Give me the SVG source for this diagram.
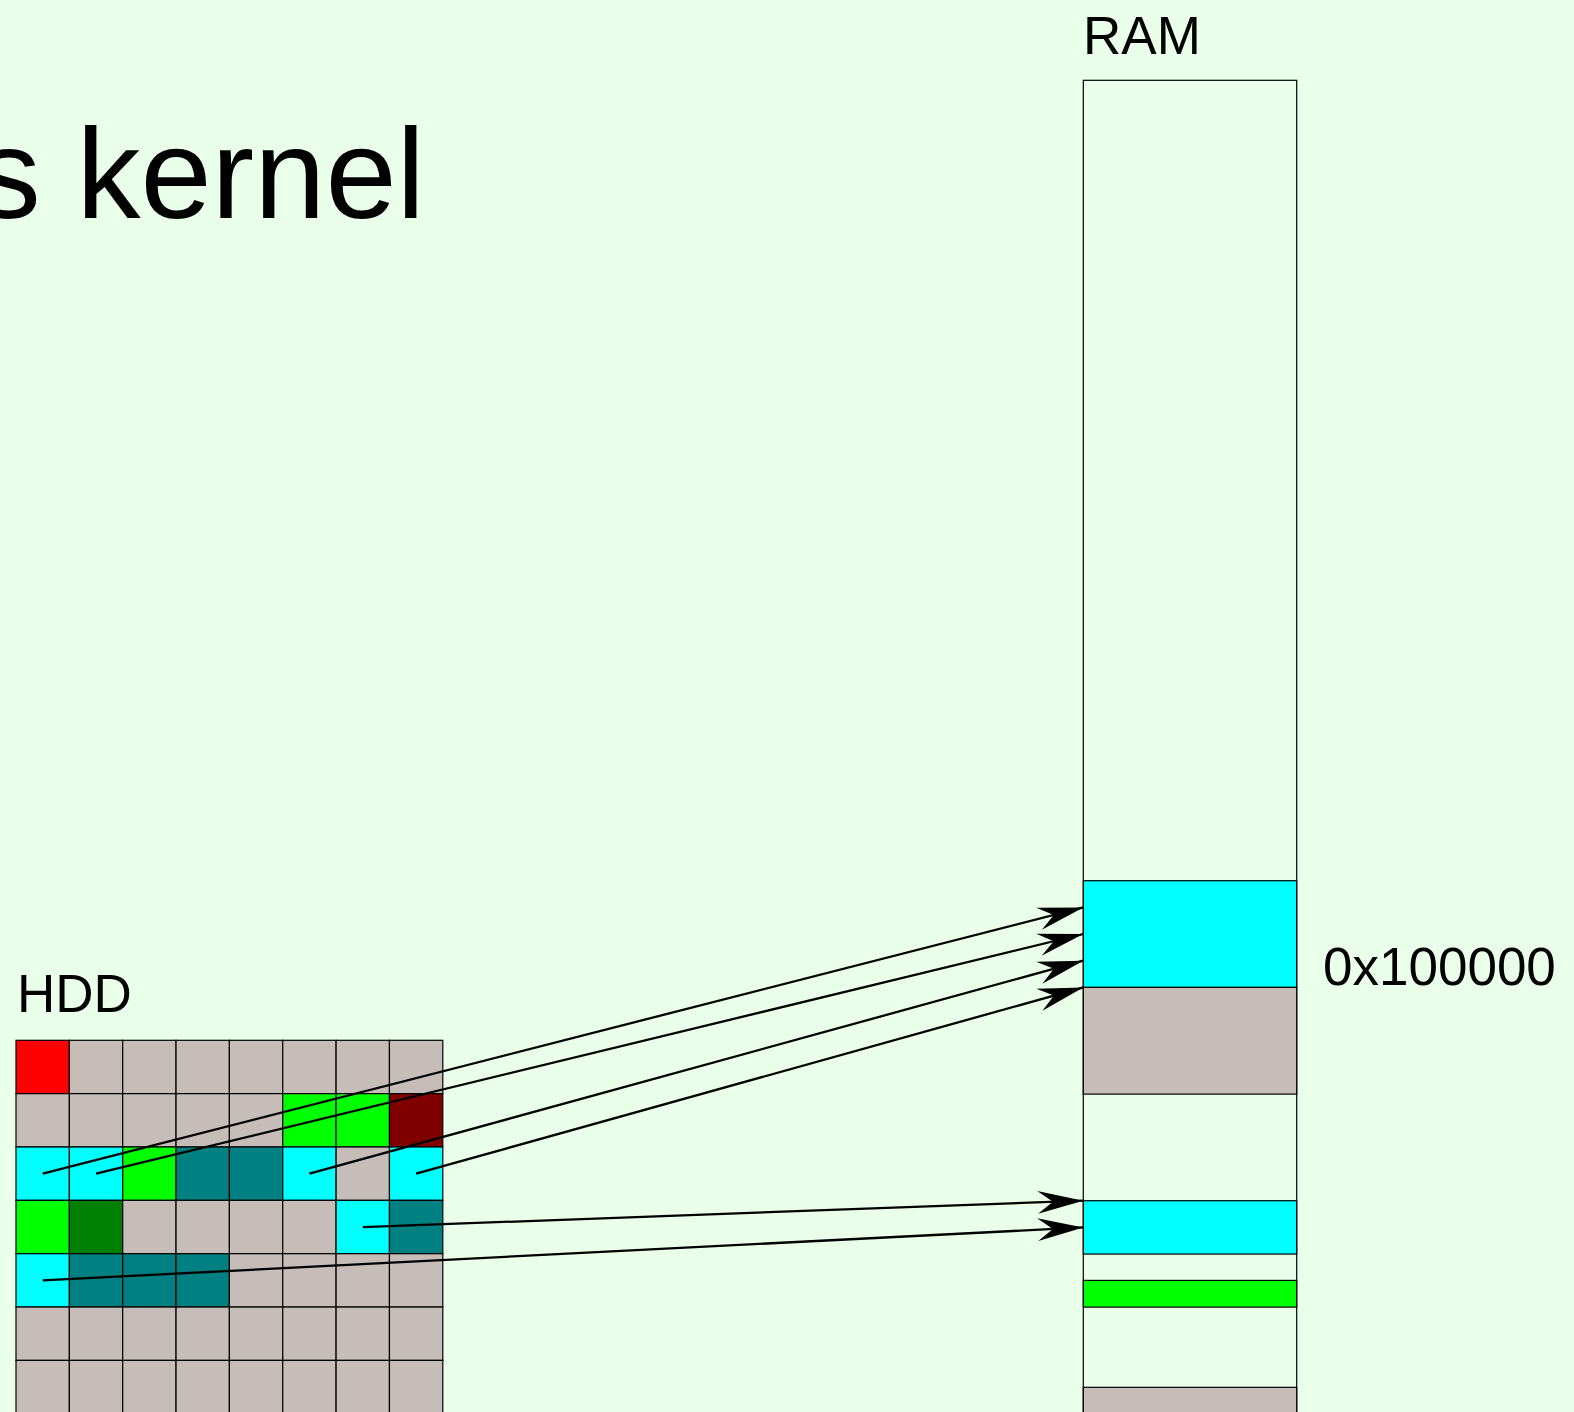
<svg xmlns="http://www.w3.org/2000/svg" width="1574" height="1412" viewBox="0 0 1574 1412">
  <style>
    text { font-family: "Liberation Sans", Arial, Helvetica, sans-serif; fill: #000; }
    .cell { stroke: #000; stroke-width: 1.2; }
    .g { fill: #c7bdb8; }
    .r { fill: #ff0000; }
    .gr { fill: #00ff00; }
    .dg { fill: #008000; }
    .dr { fill: #800000; }
    .cy { fill: #00ffff; }
    .tl { fill: #008080; }
    .ram { fill: none; stroke: #000; stroke-width: 1.2; }
    .conn { stroke: #000; stroke-width: 2.3; fill: none; marker-end: url(#stealth); }
  </style>
  <defs>
    <marker id="stealth" markerUnits="userSpaceOnUse" markerWidth="50" markerHeight="30" viewBox="-44 -12 46 24" refX="0" refY="0" orient="auto" overflow="visible">
      <path d="M0,0 L-42,-10.5 L-28,0 L-42,10.5 Z" fill="#000"/>
    </marker>
  </defs>
  <rect width="1574" height="1412" fill="#eaffea"/>

  <text x="425" y="218" font-size="128" text-anchor="end">s kernel</text>

  <g id="hdd">
    <text x="17" y="1012" font-size="53">HDD</text>
    <g transform="translate(16,1040.3)">
      <!-- row 0 -->
      <rect class="cell r" x="0" y="0" width="53.35" height="53.35"/>
      <rect class="cell g" x="53.35" y="0" width="53.35" height="53.35"/>
      <rect class="cell g" x="106.7" y="0" width="53.35" height="53.35"/>
      <rect class="cell g" x="160.05" y="0" width="53.35" height="53.35"/>
      <rect class="cell g" x="213.4" y="0" width="53.35" height="53.35"/>
      <rect class="cell g" x="266.75" y="0" width="53.35" height="53.35"/>
      <rect class="cell g" x="320.1" y="0" width="53.35" height="53.35"/>
      <rect class="cell g" x="373.45" y="0" width="53.35" height="53.35"/>
      <!-- row 1 -->
      <rect class="cell g" x="0" y="53.35" width="53.35" height="53.35"/>
      <rect class="cell g" x="53.35" y="53.35" width="53.35" height="53.35"/>
      <rect class="cell g" x="106.7" y="53.35" width="53.35" height="53.35"/>
      <rect class="cell g" x="160.05" y="53.35" width="53.35" height="53.35"/>
      <rect class="cell g" x="213.4" y="53.35" width="53.35" height="53.35"/>
      <rect class="cell gr" x="266.75" y="53.35" width="53.35" height="53.35"/>
      <rect class="cell gr" x="320.1" y="53.35" width="53.35" height="53.35"/>
      <rect class="cell dr" x="373.45" y="53.35" width="53.35" height="53.35"/>
      <!-- row 2 -->
      <rect class="cell cy" x="0" y="106.7" width="53.35" height="53.35"/>
      <rect class="cell cy" x="53.35" y="106.7" width="53.35" height="53.35"/>
      <rect class="cell gr" x="106.7" y="106.7" width="53.35" height="53.35"/>
      <rect class="cell tl" x="160.05" y="106.7" width="53.35" height="53.35"/>
      <rect class="cell tl" x="213.4" y="106.7" width="53.35" height="53.35"/>
      <rect class="cell cy" x="266.75" y="106.7" width="53.35" height="53.35"/>
      <rect class="cell g" x="320.1" y="106.7" width="53.35" height="53.35"/>
      <rect class="cell cy" x="373.45" y="106.7" width="53.35" height="53.35"/>
      <!-- row 3 -->
      <rect class="cell gr" x="0" y="160.05" width="53.35" height="53.35"/>
      <rect class="cell dg" x="53.35" y="160.05" width="53.35" height="53.35"/>
      <rect class="cell g" x="106.7" y="160.05" width="53.35" height="53.35"/>
      <rect class="cell g" x="160.05" y="160.05" width="53.35" height="53.35"/>
      <rect class="cell g" x="213.4" y="160.05" width="53.35" height="53.35"/>
      <rect class="cell g" x="266.75" y="160.05" width="53.35" height="53.35"/>
      <rect class="cell cy" x="320.1" y="160.05" width="53.35" height="53.35"/>
      <rect class="cell tl" x="373.45" y="160.05" width="53.35" height="53.35"/>
      <!-- row 4 -->
      <rect class="cell cy" x="0" y="213.4" width="53.35" height="53.35"/>
      <rect class="cell tl" x="53.35" y="213.4" width="53.35" height="53.35"/>
      <rect class="cell tl" x="106.7" y="213.4" width="53.35" height="53.35"/>
      <rect class="cell tl" x="160.05" y="213.4" width="53.35" height="53.35"/>
      <rect class="cell g" x="213.4" y="213.4" width="53.35" height="53.35"/>
      <rect class="cell g" x="266.75" y="213.4" width="53.35" height="53.35"/>
      <rect class="cell g" x="320.1" y="213.4" width="53.35" height="53.35"/>
      <rect class="cell g" x="373.45" y="213.4" width="53.35" height="53.35"/>
      <!-- row 5 -->
      <rect class="cell g" x="0" y="266.75" width="53.35" height="53.35"/>
      <rect class="cell g" x="53.35" y="266.75" width="53.35" height="53.35"/>
      <rect class="cell g" x="106.7" y="266.75" width="53.35" height="53.35"/>
      <rect class="cell g" x="160.05" y="266.75" width="53.35" height="53.35"/>
      <rect class="cell g" x="213.4" y="266.75" width="53.35" height="53.35"/>
      <rect class="cell g" x="266.75" y="266.75" width="53.35" height="53.35"/>
      <rect class="cell g" x="320.1" y="266.75" width="53.35" height="53.35"/>
      <rect class="cell g" x="373.45" y="266.75" width="53.35" height="53.35"/>
      <!-- row 6 -->
      <rect class="cell g" x="0" y="320.1" width="53.35" height="53.35"/>
      <rect class="cell g" x="53.35" y="320.1" width="53.35" height="53.35"/>
      <rect class="cell g" x="106.7" y="320.1" width="53.35" height="53.35"/>
      <rect class="cell g" x="160.05" y="320.1" width="53.35" height="53.35"/>
      <rect class="cell g" x="213.4" y="320.1" width="53.35" height="53.35"/>
      <rect class="cell g" x="266.75" y="320.1" width="53.35" height="53.35"/>
      <rect class="cell g" x="320.1" y="320.1" width="53.35" height="53.35"/>
      <rect class="cell g" x="373.45" y="320.1" width="53.35" height="53.35"/>
    </g>
  </g>

  <g id="ram">
    <text x="1083" y="54" font-size="53">RAM</text>
    <rect class="ram" x="1083.3" y="80.3" width="213.4" height="1400"/>
    <rect class="cell cy" x="1083.3" y="880.7" width="213.4" height="106.7"/>
    <rect class="cell g" x="1083.3" y="987.4" width="213.4" height="106.7"/>
    <rect class="cell cy" x="1083.3" y="1200.7" width="213.4" height="53.35"/>
    <rect class="cell gr" x="1083.3" y="1280.4" width="213.4" height="26.7"/>
    <rect class="cell g" x="1083.3" y="1387.3" width="213.4" height="60"/>
    <text x="1323" y="985" font-size="53">0x100000</text>
  </g>

  <g id="connectors">
    <line class="conn" x1="42.7" y1="1173.7" x2="1083.3" y2="907.4"/>
    <line class="conn" x1="96" y1="1173.7" x2="1083.3" y2="934"/>
    <line class="conn" x1="309.4" y1="1173.7" x2="1083.3" y2="960.7"/>
    <line class="conn" x1="416.1" y1="1173.7" x2="1083.3" y2="987.4"/>
    <line class="conn" x1="362.8" y1="1227.1" x2="1083.3" y2="1200.7"/>
    <line class="conn" x1="42.7" y1="1280.4" x2="1083.3" y2="1227.4"/>
  </g>
</svg>
